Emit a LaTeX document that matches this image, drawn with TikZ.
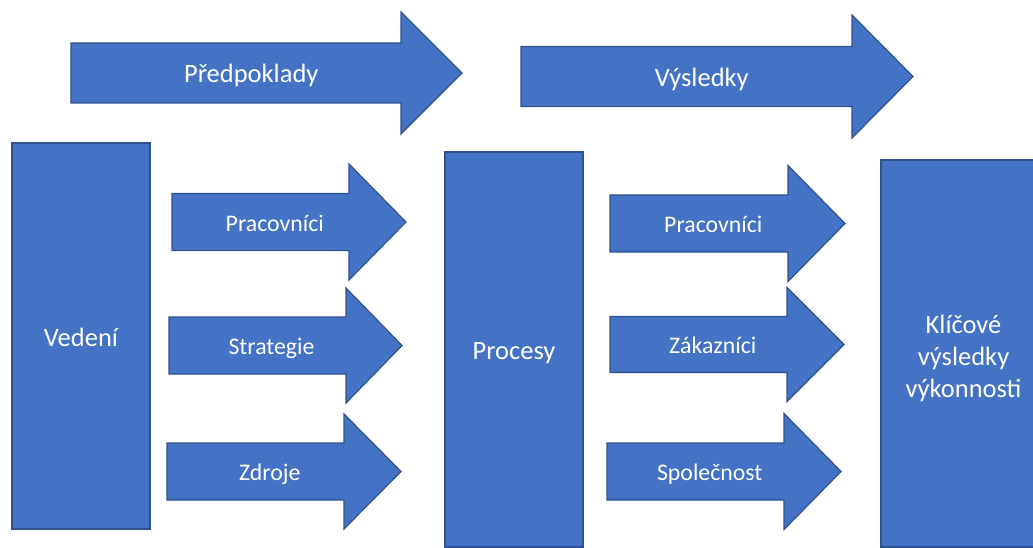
\documentclass[tikz,border=0pt]{standalone}
\usepackage{fontspec}
\setmainfont{Carlito}
\usepackage{xcolor}
\usepackage{tikz}

\definecolor{modra}{HTML}{4472C4}
\definecolor{okraj}{HTML}{2F528F}

\tikzset{
  blok/.style={draw=okraj, fill=modra, line width=1.2pt},
  velky/.style={text=white, inner sep=0pt, font=\fontsize{26.5}{32}\selectfont,
    text height=20pt, text depth=0pt},
  maly/.style={text=white, inner sep=0pt, font=\fontsize{23.8}{29}\selectfont,
    text height=18.4pt, text depth=0pt},
}

% sipka: jmeno, styl, levy okraj, zacatek hrotu, spicka, stred y, pul drieku, pul hrotu, text
\newcommand{\sipka}[9]{%
  \draw[blok] ({#3},{#6-#7}) -- ({#4},{#6-#7}) -- ({#4},{#6-#8}) -- ({#5},{#6})
    -- ({#4},{#6+#8}) -- ({#4},{#6+#7}) -- ({#3},{#6+#7}) -- cycle;
  \node[#2] (#1) at ({(#3+#4)/2+(#5-#4)/4},{#6}) {#9};
}

\begin{document}
\begin{tikzpicture}[x=1pt, y=-1pt]
            \clip (0,0) rectangle (1033,548);
            \sipka{predpoklady}{velky}{71}{401}{462}{73}{30}{61}{Předpoklady}
            \sipka{vysledky}{velky}{521}{852}{913}{76.5}{30}{61.5}{Výsledky}

            \node[blok, velky, minimum width=138pt, minimum height=386pt] at (81, 336) (vedeni) {Vedení};
            \node[blok, velky, minimum width=138pt, minimum height=395pt] at (514, 349.5) (procesy) {Procesy};
            \node[blok, velky, align=center, text height=87pt, minimum width=165pt, minimum height=387pt]
                at (963.5, 353.5) (klicove) {Klíčové\\výsledky\\výkonnosti};

            \sipka{pracovnici}{maly}{172}{349}{406}{222}{28.5}{58}{Pracovníci}
            \sipka{strategie}{maly}{169}{346}{402}{345.5}{28.5}{57.5}{Strategie}
            \sipka{zdroje}{maly}{167}{344}{401}{471.5}{28.5}{57.5}{Zdroje}

            \sipka{pracovnicib}{maly}{610}{788}{845}{223.5}{28.5}{58}{Pracovníci}
            \sipka{zakaznici}{maly}{610}{787}{844}{344.5}{28}{57}{Zákazníci}
            \sipka{spolecnost}{maly}{607}{784}{841}{471.5}{28.5}{58}{Společnost}
        \end{tikzpicture}
\end{document}
